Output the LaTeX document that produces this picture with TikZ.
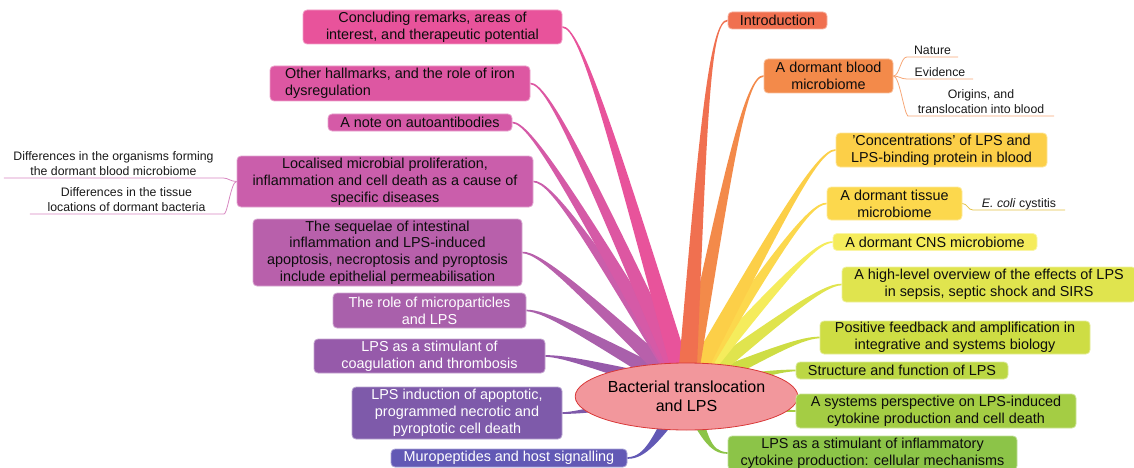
\documentclass[tikz,border=0pt]{standalone}
\usepackage{fontspec}
\setmainfont{Liberation Sans}
\usetikzlibrary{calc,shapes.geometric}
\pgfdeclarelayer{background}
\pgfsetlayers{background,main}
\definecolor{cL1}{HTML}{E8539B}
\definecolor{cL2}{HTML}{DD57A2}
\definecolor{cL3}{HTML}{D55AA7}
\definecolor{cL4}{HTML}{CA5EAB}
\definecolor{cL5}{HTML}{B860AB}
\definecolor{cL6}{HTML}{A960AB}
\definecolor{cL7}{HTML}{965AAA}
\definecolor{cL8}{HTML}{7E5AAA}
\definecolor{cL9}{HTML}{6259B5}
\definecolor{cR1}{HTML}{F07050}
\definecolor{cR2}{HTML}{F38A4A}
\definecolor{cR3}{HTML}{FCCF48}
\definecolor{cR4}{HTML}{FCD84D}
\definecolor{cR5}{HTML}{F5EC5C}
\definecolor{cR6}{HTML}{E0E44E}
\definecolor{cR7}{HTML}{CEDD44}
\definecolor{cR8}{HTML}{BCD744}
\definecolor{cR9}{HTML}{A4CD44}
\definecolor{cR10}{HTML}{8CC448}
\definecolor{ellfill}{HTML}{F2979C}
\definecolor{elldraw}{HTML}{D93838}
\newcommand\branchto[3]{%
  \coordinate (bE) at (#2);
  \coordinate (bQ) at ($(bE)+(#3,0)$);
  \coordinate (bM) at ($(root)!0.72!(bQ)$);
  \fill[#1] ($(root)!9.5pt!90:(bQ)$) .. controls ($(bM)!4pt!90:(bQ)$) and ($(bQ)!1.3pt!90:(bE)$) .. ($(bE)!0.8pt!-90:(bQ)$)
    -- ($(bE)!0.8pt!90:(bQ)$) .. controls ($(bQ)!1.3pt!-90:(bE)$) and ($(bM)!4pt!-90:(bQ)$) .. ($(root)!9.5pt!-90:(bQ)$) -- cycle;}
\begin{document}
\begin{tikzpicture}[x=1pt,y=-1pt,
  box/.style={fill=#1, draw=#1!55!white, line width=0.8pt, rounded corners=4pt, inner sep=0pt,
    align=center, font=\fontsize{14.4}{16.8}\selectfont, text=black!95},
  wbox/.style={box=#1, text=white},
  sub/.style={inner xsep=0pt, inner ysep=2.5pt, anchor=south, align=center, text depth=0pt,
    font=\fontsize{12.3}{14.5}\selectfont, text=black!90},
  subline/.style={draw=#1, line width=0.8pt},
]
\useasboundingbox (0,0) rectangle (1134,468);

% central node
\node[ellipse, fill=ellfill, draw=elldraw, line width=0.8pt, minimum width=203pt, minimum height=67pt, inner sep=0pt,
  align=center, font=\fontsize{16}{19}\selectfont] (core) at (686.5,396.5) {Bacterial translocation\\and LPS};
\coordinate (root) at ($(core.center)+(0,-6)$);

% left nodes
\node[box=cL1, minimum width=259pt, minimum height=34pt] (L1) at (432.5,27) {Concluding remarks, areas of\\interest, and therapeutic potential};
\node[box=cL2, minimum width=260pt, minimum height=35pt, align=left] (L2) at (400,83.5) {Other hallmarks, and the role of iron\\dysregulation};
\node[box=cL3, minimum width=184pt, minimum height=17pt] (L3) at (420,122.5) {A note on autoantibodies};
\node[box=cL4, minimum width=296pt, minimum height=51pt] (L4) at (385,181.5) {Localised microbial proliferation,\\inflammation and cell death as a cause of\\specific diseases};
\node[box=cL5, minimum width=269pt, minimum height=67pt] (L5) at (387.5,252.5) {The sequelae of intestinal\\inflammation and LPS-induced\\apoptosis, necroptosis and pyroptosis\\include epithelial permeabilisation};
\node[wbox=cL6, minimum width=193pt, minimum height=35pt] (L6) at (429.5,310.5) {The role of microparticles\\and LPS};
\node[wbox=cL7, minimum width=231pt, minimum height=34pt] (L7) at (429.5,356) {LPS as a stimulant of\\coagulation and thrombosis};
\node[wbox=cL8, minimum width=210pt, minimum height=52pt] (L8) at (457,413) {LPS induction of apoptotic,\\programmed necrotic and\\pyroptotic cell death};
\node[wbox=cL9, minimum width=236pt, minimum height=18pt] (L9) at (509,458) {Muropeptides and host signalling};

% right nodes
\node[box=cR1, minimum width=99pt, minimum height=17pt] (R1) at (777.5,20.5) {Introduction};
\node[box=cR2, minimum width=129pt, minimum height=34pt] (R2) at (828.5,76) {A dormant blood\\microbiome};
\node[box=cR3, minimum width=211pt, minimum height=34pt] (R3) at (941.5,150) {'Concentrations' of LPS and\\LPS-binding protein in blood};
\node[box=cR4, minimum width=135pt, minimum height=33pt] (R4) at (894.5,203.5) {A dormant tissue\\microbiome};
\node[box=cR5, minimum width=204pt, minimum height=17pt] (R5) at (935,242) {A dormant CNS microbiome};
\node[box=cR6, minimum width=294pt, minimum height=35pt] (R6) at (989,284.5) {A high-level overview of the effects of LPS\\in sepsis, septic shock and SIRS};
\node[box=cR7, minimum width=270pt, minimum height=33pt] (R7) at (955,337.5) {Positive feedback and amplification in\\integrative and systems biology};
\node[box=cR8, minimum width=212pt, minimum height=17pt] (R8) at (902,370.5) {Structure and function of LPS};
\node[box=cR9, minimum width=280pt, minimum height=34pt] (R9) at (936,411) {A systems perspective on LPS-induced\\cytokine production and cell death};
\node[box=cR10, minimum width=289pt, minimum height=34pt] (R10) at (872.5,453) {LPS as a stimulant of inflammatory\\cytokine production: cellular mechanisms};

% sub nodes
\node[sub, minimum width=219pt] (S1) at (113.5,178) {Differences in the organisms forming\\the dormant blood microbiome};
\node[sub, minimum width=193pt] (S2) at (126.5,214) {Differences in the tissue\\locations of dormant bacteria};
\node[sub, minimum width=51pt] (N1) at (932.5,57) {Nature};
\node[sub, minimum width=66pt] (N2) at (940,79) {Evidence};
\node[sub, minimum width=146pt] (N3) at (981,116) {Origins, and\\translocation into blood};
\node[sub, minimum width=92pt] (E1) at (1019,210) {\textit{E. coli} cystitis};

% sub connectors
\draw[subline=cL4!75!white] (L4.west) .. controls +(-6,0) and +(5,0) .. (S1.south east) -- (S1.south west);
\draw[subline=cL4!75!white] (L4.west) .. controls +(-6,0) and +(4,4) .. (S2.south east) -- (S2.south west);
\draw[subline=cR2!75!white] (R2.east) .. controls +(6,0) and +(-6,0) .. (N1.south west) -- (N1.south east);
\draw[subline=cR2!75!white] (R2.east) .. controls +(6,0) and +(-6,0) .. (N2.south west) -- (N2.south east);
\draw[subline=cR2!75!white] (R2.east) .. controls +(6,0) and +(-4,-4) .. (N3.south west) -- (N3.south east);
\draw[subline=cR4!90!black] (R4.east) .. controls +(5,0) and +(-5,0) .. (E1.south west) -- (E1.south east);

% tapered branches
\begin{pgfonlayer}{background}
\branchto{cL9}{L9.east}{18}
\branchto{cL8}{L8.east}{18}
\branchto{cL7}{L7.east}{18}
\branchto{cL6}{L6.east}{18}
\branchto{cL5}{L5.east}{18}
\branchto{cL4}{L4.east}{18}
\branchto{cL3}{L3.east}{18}
\branchto{cL2}{L2.east}{18}
\branchto{cL1}{L1.east}{18}
\branchto{cR10}{R10.west}{-18}
\branchto{cR9}{R9.west}{-18}
\branchto{cR8}{R8.west}{-18}
\branchto{cR7}{R7.west}{-18}
\branchto{cR6}{R6.west}{-18}
\branchto{cR5}{R5.west}{-18}
\branchto{cR4}{R4.west}{-18}
\branchto{cR3}{R3.west}{-18}
\branchto{cR2}{R2.west}{-18}
\branchto{cR1}{R1.west}{-18}
\end{pgfonlayer}
\end{tikzpicture}
\end{document}
